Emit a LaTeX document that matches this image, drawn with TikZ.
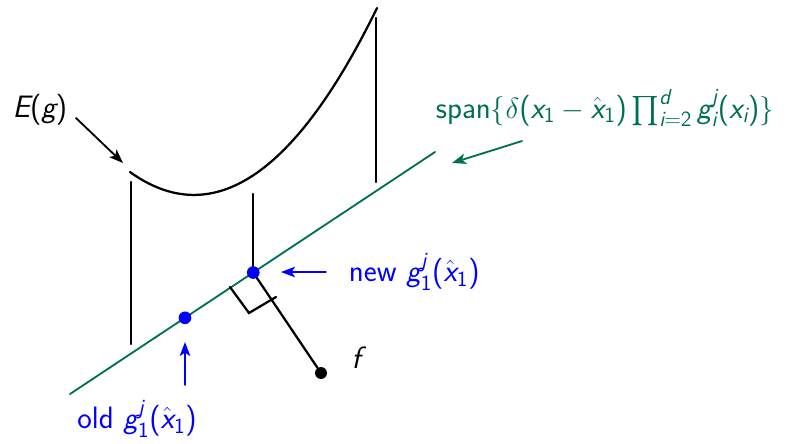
\documentclass[tikz,border=0pt]{standalone}
\usepackage{exscale}
\usetikzlibrary{calc,arrows.meta}
\renewcommand{\familydefault}{\sfdefault}
% sans serif letters and digits in math
\DeclareSymbolFont{operators}{TU}{lmss}{m}{n}
\DeclareSymbolFont{sfletters}{TU}{lmss}{m}{sl}
\DeclareSymbolFont{legacyops}{OT1}{cmr}{m}{n}
\DeclareMathAccent{\hat}{\mathalpha}{legacyops}{"5E}
\DeclareMathSymbol{E}{\mathalpha}{sfletters}{`E}
\DeclareMathSymbol{g}{\mathalpha}{sfletters}{`g}
\DeclareMathSymbol{f}{\mathalpha}{sfletters}{`f}
\DeclareMathSymbol{x}{\mathalpha}{sfletters}{`x}
\DeclareMathSymbol{i}{\mathalpha}{sfletters}{`i}
\DeclareMathSymbol{j}{\mathalpha}{sfletters}{`j}
\DeclareMathSymbol{d}{\mathalpha}{sfletters}{`d}
\definecolor{spangreen}{RGB}{0,112,84}

\begin{document}
\begin{tikzpicture}[
  x=0.025cm,y=-0.025cm,
  line cap=round,
  every node/.style={font=\fontsize{22}{26}\selectfont},
  gdot/.style={circle,fill=blue,inner sep=0pt,minimum size=9pt},
  fdot/.style={circle,fill=black,inner sep=0pt,minimum size=8.5pt},
  pointer/.style={-{Stealth[length=10pt,width=7.5pt,inset=2.5pt]},line width=1.3pt}
]
  \useasboundingbox (0,0) rectangle (786,443);

  \coordinate (L) at (70,394);
  \coordinate (R) at (435,152);

  % energy curve and its drop lines
  \draw[line width=1.6pt] (130,172) .. controls (212,231) and (295,176) .. (377,8);
  \draw[line width=1.6pt] (131,182) -- (131,344);
  \draw[line width=1.6pt] (376,18) -- (376,182);

  \draw[spangreen,line width=1.3pt] (L) -- (R);
  \node[gdot] (old) at ($(L)!0.315!(R)$) {};
  \node[gdot] (new) at ($(L)!0.502!(R)$) {};
  \node[fdot] (f) at (321,373) {};
  \node (flabel) at (356,358) {$f$};

  \draw[line width=1.6pt] (new.north) -- ++(0,-72);
  \draw[line width=1.6pt] (new) -- (f);
  \draw[line width=1.6pt] (230,287) -- (249,313) -- (276,297);

  \node (Elabel) at (40,110) {$E(g)$};
  \coordinate (Etail) at (76,118);
  \coordinate (Etip) at (123,163);
  \draw[pointer] (Etail) -- (Etip);

  \node[text=spangreen] (spanlabel) at (605,108)
    {span$\{\delta(x_1-\hat{x}_1)\prod_{i=2}^{d} g_i^j(x_i)\}$};
  \coordinate (Stail) at (522,141);
  \coordinate (Stip) at (452,163);
  \draw[pointer,spangreen] (Stail) -- (Stip);

  \node[text=blue,anchor=west] (newlabel) at (344,272) {new $g_1^j(\hat{x}_1)$};
  \coordinate (Ntail) at (326,272);
  \coordinate (Ntip) at (281,272);
  \draw[pointer,blue] (Ntail) -- (Ntip);

  \node[text=blue,inner sep=1pt] (oldlabel) at (137,419) {old $g_1^j(\hat{x}_1)$};
  \coordinate (Otail) at (185,385);
  \coordinate (Otip) at (185,342);
  \draw[pointer,blue] (Otail) -- (Otip);
\end{tikzpicture}
\end{document}
